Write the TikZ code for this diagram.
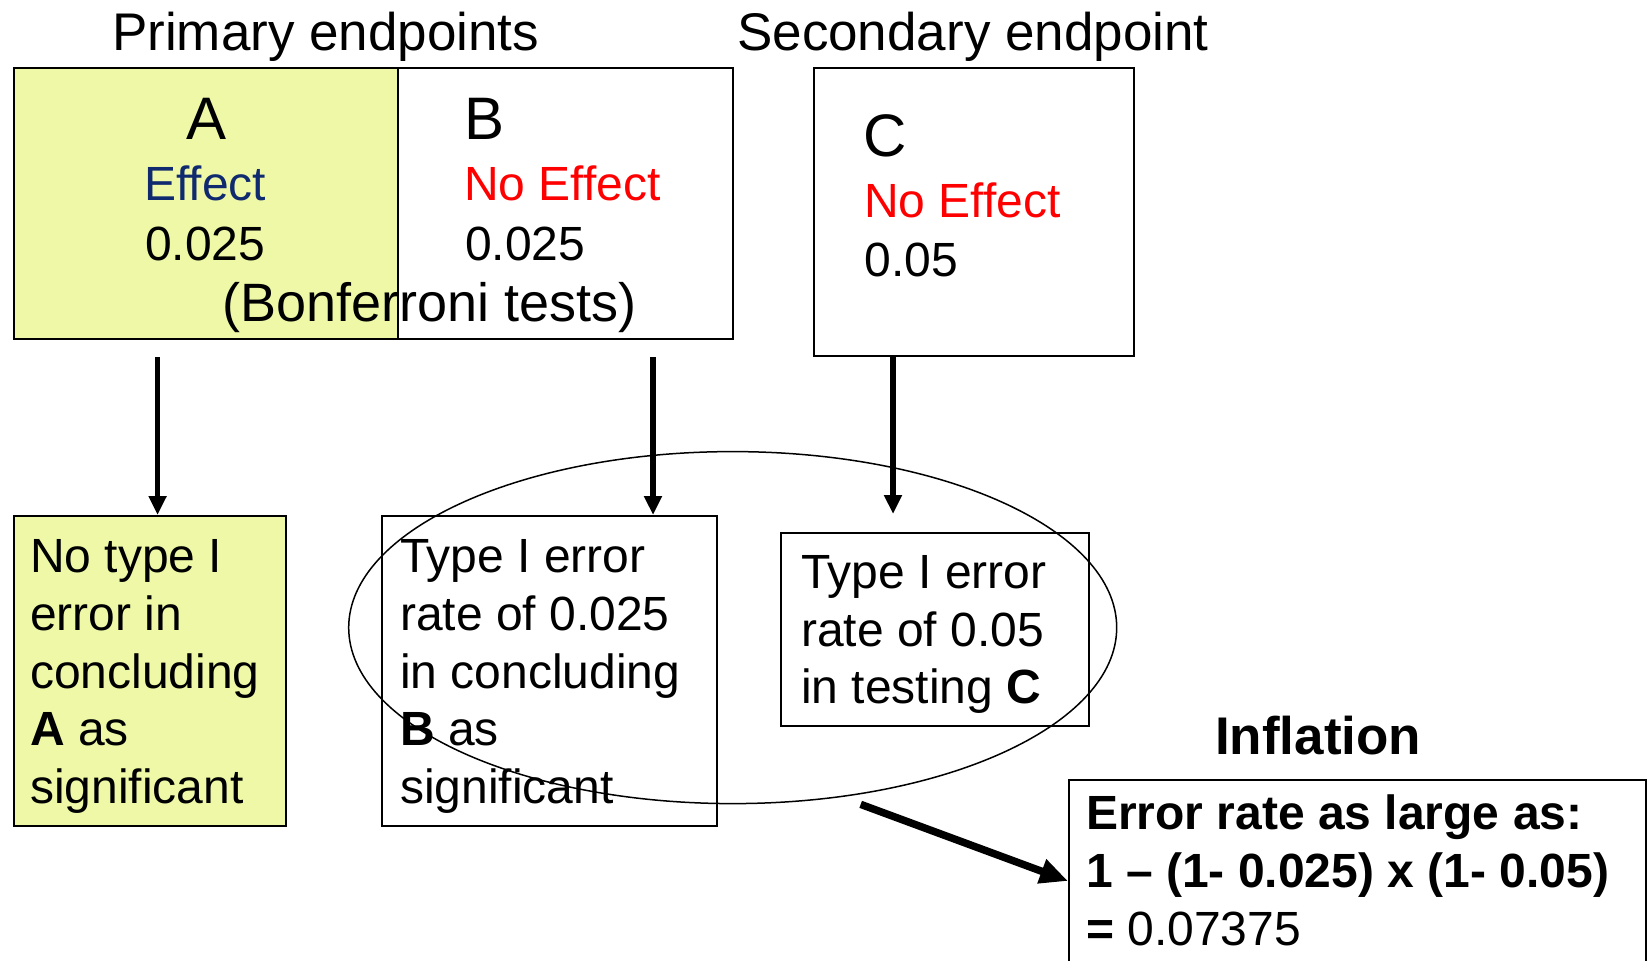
\documentclass[tikz,border=0pt]{standalone}
\usepackage{fontspec}
\setmainfont{Liberation Sans}
\usepackage{tikz}
\usetikzlibrary{arrows.meta, positioning, calc, shapes.geometric}
\definecolor{PaleYellow}{HTML}{EEF8A6}
\definecolor{EffectBlue}{HTML}{0F2A6E}
\definecolor{NoRed}{HTML}{FF0000}

\begin{document}
\begin{tikzpicture}[x=1pt, y=-1pt, every node/.style={inner sep=0pt}]
  \tikzstyle{box}=[rectangle, draw=black, line width=2pt, anchor=north west, fill=white]
  \tikzstyle{txt}=[anchor=base west, align=left, font=\fontsize{48}{57.8}\selectfont]
  \tikzstyle{head}=[anchor=base west, font=\fontsize{53}{60}\selectfont]
  \tikzstyle{letter}=[anchor=base west, font=\fontsize{60}{60}\selectfont]
  \tikzstyle{arrow}=[-{Triangle[width=17pt, length=19pt]}, line width=5.5pt]
  \tikzstyle{bigarrow}=[-{Triangle[width=24pt, length=28pt]}, line width=7.5pt]

  \path[use as bounding box, clip] (0,0) rectangle (1647,961);

  % headings
  \node[head] (primary) at (112,50) {Primary endpoints};
  \node[head] (secondary) at (737,50) {Secondary endpoint};

  % endpoint boxes
  \node[box, fill=PaleYellow, minimum width=384.4pt, minimum height=271pt] (A) at (12.6,67) {};
  \node[box, minimum width=335pt, minimum height=271pt] (B) at (397,67) {};
  \node[box, minimum width=320pt, minimum height=288pt] (C) at (813,67) {};

  \node[letter] (Aname) at (186,139.7) {A};
  \node[txt, text=EffectBlue] (Aeff) at (144,200.6) {Effect};
  \node[txt] (Aalpha) at (145,260.5) {0.025};
  \node[letter] (Bname) at (464,139.7) {B};
  \node[txt, text=NoRed] (Beff) at (464,200.6) {No Effect};
  \node[txt] (Balpha) at (465,260.5) {0.025};
  \node[txt, font=\fontsize{54}{60}\selectfont] (bonf) at (222,321.4) {(Bonferroni tests)};
  \node[letter] (Cname) at (863.5,156.5) {C};
  \node[txt, text=NoRed] (Ceff) at (864,217.4) {No Effect};
  \node[txt] (Calpha) at (864.5,276.3) {0.05};

  % outcome boxes
  \node[box, fill=PaleYellow, minimum width=272pt, minimum height=310pt] (A2) at (12.6,515) {};
  \node[box, minimum width=335pt, minimum height=310pt] (B2) at (381,515) {};
  \node[box, minimum width=308pt, minimum height=193.5pt] (C2) at (780,531.5) {};
  \node[box, minimum width=577pt, minimum height=202pt] (D) at (1068,779) {};

  % multi-line texts sit on the baseline of their last line
  \node[txt] (A2text) at (30,803.7) {No type I\\error in\\concluding\\\textbf{A} as\\significant};
  \node[txt] (B2text) at (400,803.7) {Type I error\\rate of 0.025\\in concluding\\\textbf{B} as\\significant};
  \node[txt] (C2text) at (801,703.8) {Type I error\\rate of 0.05\\in testing \textbf{C}};
  \node[head, font=\fontsize{53}{60}\selectfont\bfseries] (infl) at (1215,754.2) {Inflation};
  \node[txt] (Dtext) at (1086,945.4) {\textbf{Error rate as large as:}\\\textbf{1 – (1- 0.025) x (1- 0.05)}\\\textbf{=} 0.07375};

  % arrows
  \draw[arrow] ([xshift=145pt, yshift=-17pt]A.south west) -- ([xshift=145pt]A2.north west);
  \draw[arrow] ([xshift=256pt, yshift=-17pt]B.south west) -- ([xshift=272pt]B2.north west);
  \draw[arrow, shorten >=17.5pt] ([xshift=80pt]C.south west) -- ([xshift=113pt]C2.north west);

  \node[draw, ellipse, line width=1.5pt, minimum width=768pt, minimum height=352pt] (ring) at (732.7,627.6) {};
  \draw[bigarrow] ([xshift=128pt]ring.south) -- (D.west);
\end{tikzpicture}
\end{document}
